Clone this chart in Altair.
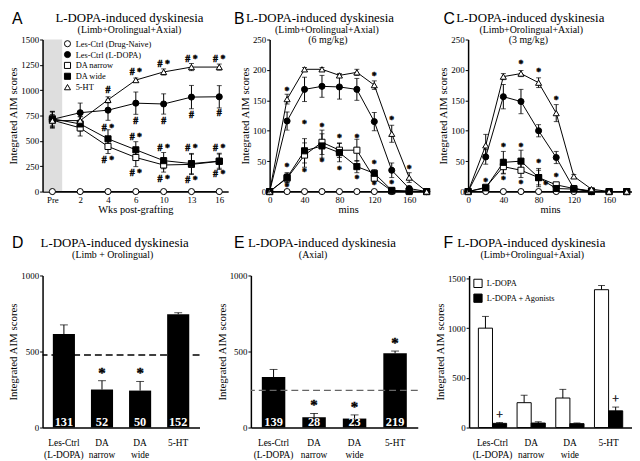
import json
import altair as alt
import pandas as pd

SERIF = "Liberation Serif"
SANS = "Liberation Sans"
Y_TITLE = "Integrated AIM scores"

# ---------------- shared series ----------------
groups = ["Les-Ctrl (Drug-Naive)", "Les-Ctrl (L-DOPA)", "DA narrow", "DA wide", "5-HT"]
group_shapes = ["circle", "circle", "square", "square", "triangle-up"]
group_fills = ["white", "black", "white", "black", "white"]

# ---------------- Panel A ----------------
weeks = ["Pre", "2", "4", "6", "10", "13", "16"]
a_naive = [0, 0, 0, 0, 0, 0, 0]
a_naive_err = [0, 0, 0, 0, 0, 0, 0]
a_ldopa = [712, 778, 803, 872, 864, 932, 935]
a_ldopa_err = [80, 95, 100, 110, 100, 115, 110]
a_narrow = [705, 628, 445, 336, 262, 268, 298]
a_narrow_err = [80, 80, 70, 90, 70, 100, 80]
a_wide = [718, 667, 520, 412, 305, 276, 300]
a_wide_err = [70, 70, 90, 80, 80, 100, 70]
a_5ht = [700, 700, 905, 1100, 1180, 1228, 1228]
a_5ht_err = [60, 40, 30, 20, 30, 35, 30]
a_sig_week = ["4", "6", "10", "13", "16",
              "6", "10", "13", "16",
              "4", "6", "10", "13", "16",
              "4", "6", "10", "13", "16"]
a_sig_y = [1005, 1180, 1260, 1305, 1305,
           700, 700, 750, 775,
           622, 542, 431, 431, 431,
           310, 182, 128, 112, 172]
a_sig_text = ["#", "# *", "# *", "# *", "# *",
              "#", "#", "#", "#",
              "# *", "# *", "# *", "# *", "# *",
              "# *", "# *", "# *", "# *", "# *"]

# ---------------- Panel B (6 mg/kg) ----------------
mins = [0, 20, 40, 60, 80, 100, 120, 140, 160, 180]
b_naive = [0, 0, 0, 0, 0, 0, 0, 0, 0, 0]
b_naive_err = [0, 0, 0, 0, 0, 0, 0, 0, 0, 0]
b_ldopa = [0, 116, 168, 173, 172, 168, 115, 35, 5, 0]
b_ldopa_err = [0, 15, 20, 18, 20, 18, 15, 12, 3, 0]
b_narrow = [0, 22, 60, 81, 68, 68, 22, 1, 0, 0]
b_narrow_err = [0, 8, 20, 20, 12, 18, 5, 1, 0, 0]
b_wide = [0, 23, 67, 75, 64, 41, 30, 2, 1, 0]
b_wide_err = [0, 8, 20, 20, 15, 10, 6, 1, 0, 0]
b_5ht = [0, 152, 201, 201, 191, 196, 175, 95, 23, 0]
b_5ht_err = [0, 8, 3, 3, 3, 5, 7, 14, 8, 0]
b_sig_min = [20, 120, 140, 160, 20, 20, 40, 40, 60, 60, 80, 80, 100, 100, 120, 120, 140]
b_sig_y = [166, 190, 117, 37, 40, 8, 111, 32, 106, 48, 88, 35, 88, 21, 45, 11, 13]

# ---------------- Panel C (3 mg/kg) ----------------
c_naive = [0, 0, 0, 0, 0, 0, 0, 0, 0, 0]
c_naive_err = [0, 0, 0, 0, 0, 0, 0, 0, 0, 0]
c_ldopa = [0, 57, 156, 148, 100, 56, 5, 0, 0, 0]
c_ldopa_err = [0, 12, 20, 20, 10, 10, 2, 0, 0, 0]
c_narrow = [0, 7, 41, 35, 23, 11, 5, 1, 0, 0]
c_narrow_err = [0, 3, 12, 12, 12, 3, 1, 0, 0, 0]
c_wide = [0, 6, 48, 50, 23, 5, 4, 0, 0, 0]
c_wide_err = [0, 3, 18, 18, 15, 3, 1, 0, 0, 0]
c_5ht = [0, 76, 189, 194, 179, 129, 25, 4, 0, 0]
c_5ht_err = [0, 18, 5, 5, 8, 14, 3, 2, 0, 0]
c_sig_min = [60, 80, 100, 20, 40, 40, 60, 60, 80, 88, 100]
c_sig_y = [209, 196, 150, 15, 73, 19, 73, 12, 47, 10, 24]

# ---------------- Panels D, E, F ----------------
bar_cats = ["Les-Ctrl|(L-DOPA)", "DA|narrow", "DA|wide", "5-HT"]
d_vals = [615, 250, 243, 745]
d_err = [60, 58, 60, 10]
d_n = ["131", "52", "50", "152"]
d_sig = ["", "*", "*", ""]
d_ref = 477
e_vals = [332, 67, 59, 488]
e_err = [50, 26, 24, 15]
e_n = ["139", "28", "23", "219"]
e_sig = ["", "*", "*", "*"]
e_ref = 245
f_series = ["L-DOPA", "L-DOPA + Agonists"]
f_ldopa = [1000, 250, 297, 1387]
f_ldopa_err = [118, 75, 87, 42]
f_ago = [42, 45, 39, 168]
f_ago_err = [8, 13, 7, 38]
f_ago_sig = ["+", "", "", "+"]

TOP_H = 154
BOT_H = 154


def series_frame(xs, series):
    rows = []
    for g, (vals, errs) in zip(groups, series):
        for x, v, e in zip(xs, vals, errs):
            rows.append(dict(x=x, group=g, value=v, err=e, lo=v - e, hi=v + e))
    return pd.DataFrame(rows)


def label(text, x, y, size, font=SERIF, weight="normal", align="center"):
    return (
        alt.Chart(pd.DataFrame({"t": [text]}))
        .mark_text(font=font, fontSize=size, fontWeight=weight, align=align,
                   baseline="alphabetic", color="black")
        .encode(text="t:N", x=alt.value(x), y=alt.value(y))
    )


def line_panel(df, sig, x_scale, x_axis, y_scale, y_vals, width, height, texts,
               legend=None, shade=None):
    base = alt.Chart(df)
    y_axis = alt.Axis(values=y_vals, title=Y_TITLE, zindex=1, format="d", labelOverlap=False)
    X = alt.X("x:Q", scale=x_scale, axis=x_axis)
    Y = alt.Y("value:Q", scale=y_scale, axis=y_axis)
    layers = []
    if shade is not None:
        layers.append(shade.encode(
            x=alt.X("x0:Q", scale=x_scale, axis=x_axis), x2="x1:Q",
            y=alt.Y("y0:Q", scale=y_scale, axis=y_axis), y2="y1:Q"))
    layers.append(base.mark_line(color="black", strokeWidth=1).encode(X, Y, detail="group:N"))
    eb = base.transform_filter("datum.err > 0")
    layers.append(eb.mark_rule(color="black", strokeWidth=1).encode(
        x=alt.X("x:Q", axis=x_axis), y=alt.Y("lo:Q", axis=y_axis), y2="hi:Q"))
    for f in ["lo", "hi"]:
        layers.append(eb.mark_tick(color="black", orient="horizontal", size=5, thickness=1)
                      .encode(x=alt.X("x:Q", axis=x_axis), y=alt.Y(f"{f}:Q", axis=y_axis)))
    layers.append(
        base.mark_point(filled=False, color="black", strokeWidth=1, size=38, opacity=1).encode(
            X, Y,
            shape=alt.Shape("group:N", scale=alt.Scale(domain=groups, range=group_shapes), legend=legend),
            fill=alt.Fill("group:N", scale=alt.Scale(domain=groups, range=group_fills), legend=legend),
        )
    )
    layers.append(
        alt.Chart(sig).mark_text(font=SERIF, fontSize=10, fontWeight="bold", baseline="middle",
                                 fill="black", stroke="black", strokeWidth=0.4)
        .encode(x=alt.X("x:Q", axis=x_axis), y=alt.Y("y:Q", axis=y_axis), text="t:N")
    )
    layers += texts
    return alt.layer(*layers).properties(width=width, height=height)


# ---------------- build A ----------------
a_df = series_frame(list(range(len(weeks))),
                    [(a_naive, a_naive_err), (a_ldopa, a_ldopa_err), (a_narrow, a_narrow_err),
                     (a_wide, a_wide_err), (a_5ht, a_5ht_err)])
a_sig = pd.DataFrame({"x": [weeks.index(w) for w in a_sig_week], "y": a_sig_y, "t": a_sig_text})
a_xdom = [-0.353, 6.32]
a_xscale = alt.Scale(domain=a_xdom, nice=False, zero=False)
a_xaxis = alt.Axis(values=list(range(len(weeks))), labelExpr=json.dumps(weeks) + "[datum.value]",
                   title="Wks post-grafting", labelOverlap=False, labelFlush=False)
a_shade = alt.Chart(pd.DataFrame({"x0": [a_xdom[0]], "x1": [0.353], "y0": [0], "y1": [1500]})).mark_rect(
    color="#dedede")
a_legend = alt.Legend(orient="none", legendX=21, legendY=0, title=None, labelFont=SERIF,
                      labelFontSize=8.5, labelColor="black", symbolSize=38,
                      symbolStrokeWidth=1, rowPadding=0, padding=0, labelOffset=4)
W_A = 188
panel_a = line_panel(
    a_df, a_sig, a_xscale, a_xaxis, alt.Scale(domain=[0, 1500], nice=False),
    [0, 250, 500, 750, 1000, 1250, 1500], W_A, TOP_H,
    [label("A", -31, -16, 16, font=SANS, align="left"),
     label("L-DOPA-induced dyskinesia", 88, -18, 13),
     label("(Limb+Orolingual+Axial)", 88, -7, 10)],
    legend=a_legend, shade=a_shade)

# ---------------- build B ----------------
W_B = 159
b_df = series_frame(mins, [(b_naive, b_naive_err), (b_ldopa, b_ldopa_err), (b_narrow, b_narrow_err),
                           (b_wide, b_wide_err), (b_5ht, b_5ht_err)])
b_sig = pd.DataFrame({"x": b_sig_min, "y": b_sig_y, "t": ["*"] * len(b_sig_min)})
time_axis = alt.Axis(values=[0, 40, 80, 120, 160], title="mins", labelOverlap=False, labelFlush=False)
panel_b = line_panel(
    b_df, b_sig, alt.Scale(domain=[0, 180], nice=False), time_axis,
    alt.Scale(domain=[0, 250], nice=False), [0, 50, 100, 150, 200, 250], W_B, TOP_H,
    [label("B", -36, -16, 16, font=SANS, align="left"),
     label("L-DOPA-induced dyskinesia", 51, -18, 13),
     label("(Limb+Orolingual+Axial)", 58, -7, 10),
     label("(6 mg/kg)", 59, 3.5, 10)])

# ---------------- build C ----------------
W_C = 166
c_df = series_frame(mins, [(c_naive, c_naive_err), (c_ldopa, c_ldopa_err), (c_narrow, c_narrow_err),
                           (c_wide, c_wide_err), (c_5ht, c_5ht_err)])
c_sig = pd.DataFrame({"x": c_sig_min, "y": c_sig_y, "t": ["*"] * len(c_sig_min)})
panel_c = line_panel(
    c_df, c_sig, alt.Scale(domain=[0, 186], nice=False), time_axis,
    alt.Scale(domain=[0, 250], nice=False), [0, 50, 100, 150, 200, 250], W_C, TOP_H,
    [label("C", -25, -16, 16, font=SANS, align="left"),
     label("L-DOPA-induced dyskinesia", 63, -18, 13),
     label("(Limb+Orolingual+Axial)", 64, -7, 10),
     label("(3 mg/kg)", 61, 3.5, 10)])

# ---------------- bar panels ----------------
bar_xaxis = alt.Axis(title=None, labelExpr="split(datum.label, '|')", ticks=False, tickSize=0,
                     labelBaseline="middle", labelPadding=15, labelLineHeight=12, labelAngle=0,
                     labelFontSize=9.5, labelOverlap=False)


def bar_panel(vals, errs, ns, sigs, ref, ref_color, width, texts):
    df = pd.DataFrame({"cat": bar_cats, "value": vals, "hi": [v + e for v, e in zip(vals, errs)],
                       "n": ns, "sig": sigs})
    base = alt.Chart(df)
    XC = alt.X("cat:N", sort=bar_cats)
    X = alt.X("cat:N", sort=bar_cats, scale=alt.Scale(paddingInner=0.42, paddingOuter=0.27), axis=bar_xaxis)
    Y = alt.Y("value:Q", scale=alt.Scale(domain=[0, 1000], nice=False),
              axis=alt.Axis(values=[0, 250, 500, 750, 1000], title=Y_TITLE, format="d"))
    refl = alt.Chart(pd.DataFrame({"y": [ref]})).mark_rule(
        color=ref_color, strokeDash=[7, 4], strokeWidth=1.3).encode(y="y:Q")
    bars = base.mark_bar(color="black").encode(X, Y)
    rule = base.mark_rule(color="black", strokeWidth=1).encode(x=XC, y="value:Q", y2="hi:Q")
    cap = base.mark_tick(color="black", orient="horizontal", size=8, thickness=1).encode(x=XC, y="hi:Q")
    nums = base.mark_text(color="white", font=SERIF, fontSize=12.5, fontWeight="bold",
                          baseline="bottom", dy=1).encode(x=XC, y=alt.datum(0), text="n:N")
    stars = base.transform_filter("datum.sig != ''").mark_text(
        font=SERIF, fontSize=15, fontWeight="bold", baseline="alphabetic", dy=-3,
        fill="black", stroke="black", strokeWidth=0.4).encode(x=XC, y="hi:Q", text="sig:N")
    return alt.layer(bars, refl, rule, cap, nums, stars, *texts).properties(width=width, height=BOT_H)


W_D, W_E, W_F = 159, 169, 165
panel_d = bar_panel(d_vals, d_err, d_n, d_sig, d_ref, "black", W_D,
                    [label("D", -31, -28, 16, font=SANS, align="left"),
                     label("L-DOPA-induced dyskinesia", 73, -29, 13),
                     label("(Limb + Orolingual)", 71, -18, 10)])
panel_e = bar_panel(e_vals, e_err, e_n, e_sig, e_ref, "#666666", W_E,
                    [label("E", -17, -28, 16, font=SANS, align="left"),
                     label("L-DOPA-induced dyskinesia", 72, -29, 13),
                     label("(Axial)", 63, -18, 10)])

f_rows = []
for s, vals, errs, sg in [(f_series[0], f_ldopa, f_ldopa_err, ["", "", "", ""]),
                          (f_series[1], f_ago, f_ago_err, f_ago_sig)]:
    for c, v, e, g in zip(bar_cats, vals, errs, sg):
        f_rows.append(dict(cat=c, series=s, value=v, hi=v + e, sig=g))
f_df = pd.DataFrame(f_rows)
f_base = alt.Chart(f_df)
FXC = alt.X("cat:N", sort=bar_cats)
FX = alt.X("cat:N", sort=bar_cats, scale=alt.Scale(paddingInner=0.27, paddingOuter=0.24), axis=bar_xaxis)
FXO = alt.XOffset("series:N", sort=f_series, scale=alt.Scale(domain=f_series, paddingInner=0, paddingOuter=0))
FY = alt.Y("value:Q", scale=alt.Scale(domain=[0, 1530], nice=False),
           axis=alt.Axis(values=[0, 250, 500, 750, 1000, 1250, 1500], title=Y_TITLE, format="d"))
f_legend = alt.Legend(orient="none", legendX=4, legendY=3, title=None, labelFont=SERIF, labelFontSize=8.5,
                      labelColor="black", symbolType="square", symbolSize=70, symbolStrokeColor="black",
                      symbolStrokeWidth=1, rowPadding=1, padding=0, labelOffset=4)
f_bars = f_base.mark_bar(stroke="black", strokeWidth=1).encode(
    FX, FXO, FY, fill=alt.Fill("series:N", scale=alt.Scale(domain=f_series, range=["white", "black"]),
                               legend=f_legend))
f_rule = f_base.mark_rule(color="black", strokeWidth=1).encode(x=FXC, xOffset=FXO, y="value:Q", y2="hi:Q")
f_cap = f_base.mark_tick(color="black", orient="horizontal", size=7, thickness=1).encode(
    x=FXC, xOffset=FXO, y="hi:Q")
f_plus = f_base.transform_filter("datum.sig != ''").mark_text(
    font=SERIF, fontSize=12, baseline="alphabetic", dy=-4, fill="black", stroke="black",
    strokeWidth=0.3).encode(x=FXC, xOffset=FXO, y="hi:Q", text="sig:N")
panel_f = alt.layer(
    f_bars, f_rule, f_cap, f_plus,
    label("F", -26, -28, 16, font=SANS, align="left"),
    label("L-DOPA-induced dyskinesia", 63, -29, 13),
    label("(Limb+Orolingual+Axial)", 64, -18, 10),
).properties(width=W_F, height=BOT_H)

top = alt.hconcat(panel_a, panel_b, panel_c, spacing=42, bounds="flush").resolve_scale(
    x="independent", y="independent", shape="independent", fill="independent")
bottom = alt.hconcat(panel_d, panel_e, panel_f, spacing=52, bounds="flush").resolve_scale(
    x="independent", y="independent", fill="independent")

chart = alt.vconcat(top, bottom, spacing=20).properties(
    padding=0
).configure(padding=0).configure_view(strokeWidth=0).configure_axis(
    domainColor="black", tickColor="black", labelColor="black", titleColor="black",
    labelFont=SERIF, titleFont=SERIF, labelFontSize=9, titleFontSize=11, titleFontWeight="normal",
    grid=False, tickSize=3, domainWidth=1.5, tickWidth=1, labelPadding=1, titlePadding=2,
    labelOverlap=False, labelFlush=False
).configure_axisX(titlePadding=0, titleFontSize=10.5)

chart.save("out.html", embed_options={"renderer": "svg", "actions": False})
